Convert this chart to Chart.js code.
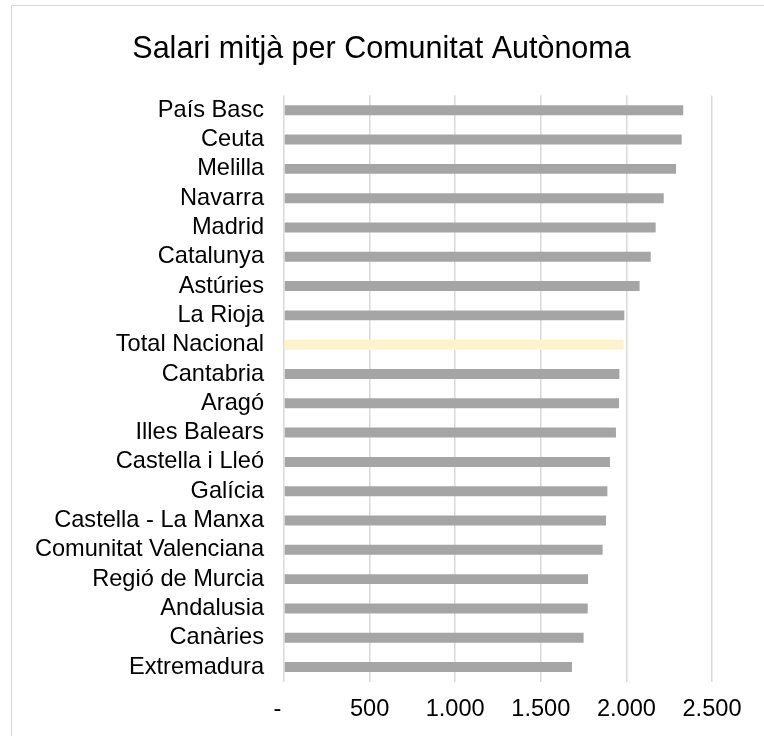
<!DOCTYPE html>
<html lang="ca">
<head>
    <meta charset="UTF-8">
    <meta name="viewport" content="width=device-width, initial-scale=1.0">
    <title>Salari mitjà per Comunitat Autònoma</title>
    <script src="https://cdn.jsdelivr.net/npm/chart.js"></script>
    <style>
        body {
            margin: 0;
            background: #fff;
            overflow: hidden;
        }
        /* marc del gràfic, surt per la dreta i per baix */
        #marc {
            position: absolute;
            left: 11px;
            top: 5px;
            width: 900px;
            height: 900px;
            border: 1px solid #d9d9d9;
        }
        #salariChart {
            position: absolute;
            left: 0;
            top: 0;
        }
    </style>
</head>
<body>
    <div id="marc"></div>
    <canvas id="salariChart" width="764" height="736"></canvas>

    <script>
        // Dades: salari mitjà (euros) per comunitat
        const comunitats = [
            'País Basc', 'Ceuta', 'Melilla', 'Navarra', 'Madrid', 'Catalunya',
            'Astúries', 'La Rioja', 'Total Nacional', 'Cantabria', 'Aragó',
            'Illes Balears', 'Castella i Lleó', 'Galícia', 'Castella - La Manxa',
            'Comunitat Valenciana', 'Regió de Murcia', 'Andalusia', 'Canàries',
            'Extremadura'
        ];
        const salaris = [
            2332, 2323, 2290, 2218, 2171, 2142,
            2077, 1988, 1984, 1959, 1957,
            1939, 1904, 1889, 1881,
            1861, 1776, 1774, 1750,
            1682
        ];
        // etiquetes de l'eix X (0, 500, 1000 ...)
        const etiquetesX = ['-  ', '500', '1.000', '1.500', '2.000', '2.500'];

        const colorBarra = '#a5a5a5';
        const colorTotal = '#fff2cc';
        const colorGraella = '#d9d9d9';
        const fontLletra = 'Liberation Sans, Arial, sans-serif';

        const ctx = document.getElementById('salariChart').getContext('2d');
        new Chart(ctx, {
            type: 'bar',
            data: {
                labels: comunitats,
                datasets: [{
                    label: 'Salari mitjà',
                    data: salaris,
                    backgroundColor: comunitats.map(c => c === 'Total Nacional' ? colorTotal : colorBarra),
                    borderWidth: 0,
                    barPercentage: 0.34,
                    categoryPercentage: 1.0
                }]
            },
            options: {
                indexAxis: 'y',
                responsive: false,
                animation: false,
                layout: {
                    padding: { left: 28, right: 29, top: 0, bottom: -2 }
                },
                plugins: {
                    legend: { display: false },
                    tooltip: { enabled: false },
                    title: {
                        display: true,
                        text: 'Salari mitjà per Comunitat Autònoma',
                        color: '#000',
                        font: { family: fontLletra, size: 30.5, weight: 'normal' },
                        padding: { top: 31, bottom: 28 }
                    }
                },
                scales: {
                    x: {
                        min: 0,
                        max: 2500,
                        border: { display: false },
                        grid: {
                            color: colorGraella,
                            lineWidth: 1.5,
                            drawTicks: false
                        },
                        ticks: {
                            stepSize: 500,
                            padding: 14,
                            color: '#000',
                            font: { family: fontLletra, size: 23.6 },
                            callback: value => etiquetesX[value / 500]
                        }
                    },
                    y: {
                        border: { display: false },
                        grid: { display: false, drawTicks: false },
                        ticks: {
                            autoSkip: false,
                            padding: 20,
                            color: '#000',
                            font: { family: fontLletra, size: 23.6 }
                        },
                        afterFit: scale => { scale.width = 256; }
                    },
                    // eix buit a la dreta: reserva espai perquè el títol quedi centrat
                    yDreta: {
                        type: 'category',
                        position: 'right',
                        border: { display: false },
                        grid: { display: false, drawTicks: false },
                        ticks: { display: false },
                        afterFit: scale => { scale.width = 23; }
                    }
                }
            }
        });
    </script>
</body>
</html>
